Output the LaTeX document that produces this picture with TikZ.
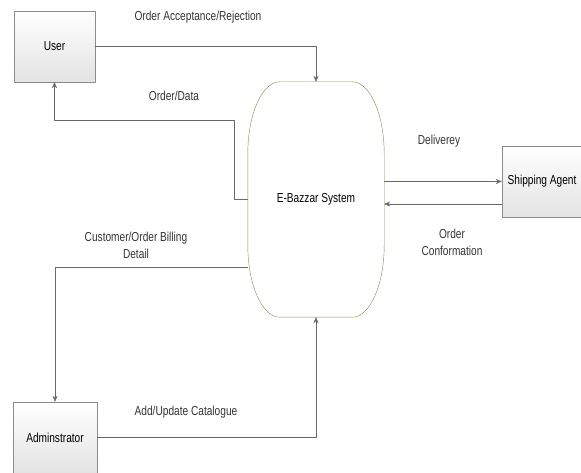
\documentclass[tikz,border=0pt]{standalone}
\usepackage{fontspec}
\setmainfont{Liberation Sans}[FakeStretch=0.78]
\usetikzlibrary{arrows.meta,calc}
\definecolor{linegray}{RGB}{105,105,105}
\definecolor{boxgray}{RGB}{140,140,140}
\definecolor{olive}{RGB}{120,148,64}
\begin{document}
\begin{tikzpicture}[x=1pt, y=1pt, font=\fontsize{13}{15}\selectfont, line join=round,
  entity/.style={draw=boxgray, top color=white, bottom color=gray!22, minimum width=81pt, minimum height=71pt, inner sep=0pt},
  process/.style={minimum width=136pt, minimum height=235pt, inner sep=0pt},
  flow/.style={draw=linegray, -{Stealth[length=6pt,width=5pt]}},
  lbl/.style={text=black!80, align=center, inner sep=0pt}]
\def\rx{32} \def\ry{72}
\useasboundingbox (0,0) rectangle (581,473);
% external entities
\node[entity] (user) at (54.5,426.5) {User};
\node[entity, minimum width=84pt] (admin) at (55,35.5) {Adminstrator};
\node[entity, minimum width=80pt] (ship) at (542,291.5) {Shipping Agent};
% the process, outline with elliptic corners
\node[process] (sys) at (316,273.5) {E-Bazzar System};
\draw[olive] ($(sys.north west)+(\rx,0)$) -- ($(sys.north east)+(-\rx,0)$)
  arc[start angle=90, end angle=0, x radius=\rx, y radius=\ry]
  -- ($(sys.south east)+(0,\ry)$)
  arc[start angle=0, end angle=-90, x radius=\rx, y radius=\ry]
  -- ($(sys.south west)+(\rx,0)$)
  arc[start angle=270, end angle=180, x radius=\rx, y radius=\ry]
  -- ($(sys.north west)+(0,-\ry)$)
  arc[start angle=180, end angle=90, x radius=\rx, y radius=\ry] -- cycle;
% data flows
\draw[flow] (user.east) -| (sys.north);
\coordinate (od) at (234,353);
\draw[flow] (sys.west) -| (od) -| (user.south);
\draw[flow] (sys.west |- 0,206) -| (admin.north);
\draw[flow] (admin.east) -| (sys.south);
\draw[flow] (sys.east |- ship.west) -- (ship.west);
\draw[flow] (ship.west |- 0,269) -- (sys.east |- 0,269);
% labels
\node[lbl] (l1) at (198,456) {Order Acceptance/Rejection};
\node[lbl] (l2) at (174,377) {Order/Data};
\node[lbl] (l3) at (439,332) {Deliverey};
\node[lbl] (l4) at (452,230.5) {Order\\[2pt]Conformation};
\node[lbl] (l5) at (136,227.5) {Customer/Order Billing\\[2pt]Detail};
\node[lbl] (l6) at (186,61) {Add/Update Catalogue};
\end{tikzpicture}
\end{document}
